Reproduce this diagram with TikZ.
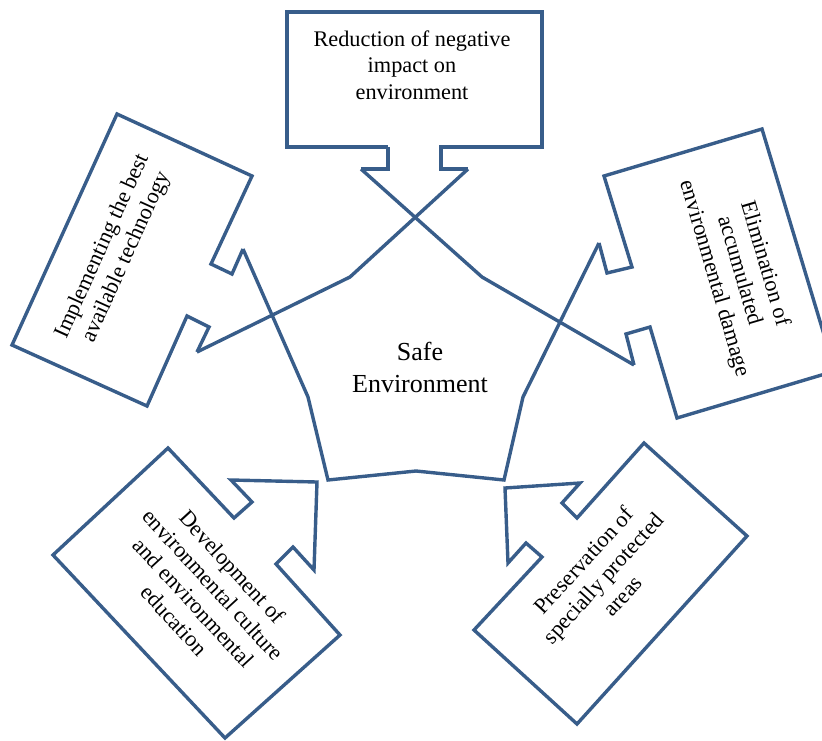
\documentclass[tikz,border=0pt]{standalone}
\usepackage{fontspec}
\setmainfont{Liberation Serif}
\usepackage{xcolor}
\definecolor{outline}{RGB}{56,93,138}
\tikzset{
	callout/.style={draw=outline, line width=3.4pt},
	txt/.style={align=center, inner sep=0pt, font=\fontsize{22.3}{26.3}\selectfont}
}

\begin{document}
\begin{tikzpicture}[x=1pt, y=-1pt]
	\useasboundingbox (0,0) rectangle (822,740);
	\clip (0,0) rectangle (822,740);
	% wing tips of the callouts
	\coordinate (T-wl) at (361,169);
	\coordinate (T-wr) at (468,169);
	\coordinate (L-wt) at (243,249);
	\coordinate (L-wb) at (197,352);
	\coordinate (R-wt) at (599,243);
	\coordinate (R-wb) at (634,365);
	\coordinate (BL-wt) at (231,480);
	\coordinate (BR-wt) at (580,483);
	% callouts
	\draw[callout] (388,147) -- (287,147) -- (287,12) -- (542,12) -- (542,147) -- (441,147) -- (441,169) -- (T-wr);
	\draw[callout] (388,147) -- (388,169) -- (T-wl);
	\draw[callout] (L-wt) -- (232,274) -- (211,264) -- (252,176) -- (117,114) -- (12,345) -- (147,406) -- (187,316) -- (209,327) -- (L-wb);
	\draw[callout] (R-wt) -- (607,273) -- (632,267) -- (604,176) -- (762,129) -- (835,371) -- (677,418) -- (650,327) -- (626,334) -- (R-wb);
	\draw[callout] (BL-wt) -- (252,502) -- (234,518) -- (168,448) -- (53,555) -- (225,738) -- (340,635) -- (276,564) -- (293,547) -- (314,570) -- (317,482) -- cycle;
	\draw[callout] (BR-wt) -- (562,503) -- (577,518) -- (644,443) -- (747,536) -- (577,724) -- (474,630) -- (542,557) -- (526,543) -- (508,563) -- (505,488) -- cycle;
	% crossing lines round the centre
	\draw[callout] (T-wr) -- (350,277) -- (L-wb);
	\draw[callout] (T-wl) -- (482,277) -- (R-wb);
	\draw[callout] (L-wt) -- (308,397) -- (328,480) -- (416,471) -- (504,480) -- (523,397) -- (R-wt);
	% texts
	\node[txt] (reduce) at (412,65) {Reduction of negative\\impact on\\environment};
	\node[txt, font=\fontsize{26}{32}\selectfont] (safe) at (420,367) {Safe\\Environment};
	\node[txt, rotate=65.7] (implement) at (114.5,252) {Implementing the best\\available technology};
	\node[txt, rotate=-73.7] (eliminate) at (739,271) {Elimination of\\accumulated\\environmental damage};
	\node[txt, rotate=-47.4] (develop) at (203.5,593.5) {Development of\\environmental culture\\and environmental\\education};
	\node[txt, rotate=47.7] (preserve) at (603,578) {Preservation of\\specially protected\\areas};
\end{tikzpicture}
\end{document}
